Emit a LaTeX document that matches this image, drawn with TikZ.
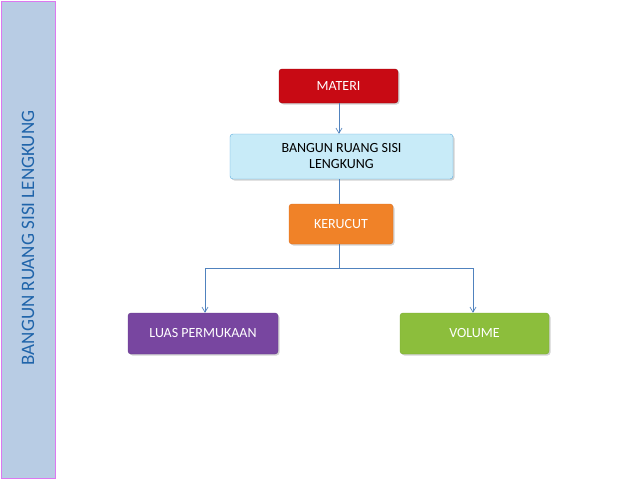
\documentclass[tikz,border=0pt]{standalone}
\usepackage{fontspec}
\setmainfont{Carlito}
\usetikzlibrary{arrows.meta,shadows}
\begin{document}
\begin{tikzpicture}[x=1pt,y=-1pt,
 box/.style={draw, rounded corners=3pt, minimum height=#1, font=\fontsize{14}{16}\selectfont, align=center, drop shadow={shadow xshift=1.5pt,shadow yshift=-1.5pt,opacity=0.35}},
 conn/.style={draw={rgb,255:red,80;green,130;blue,190}, line width=0.7pt},
 arr/.style={conn, -{Straight Barb[length=5pt,width=6pt]}}]
\useasboundingbox (0,0) rectangle (638,479);
\fill[fill={rgb,255:red,184;green,204;blue,228}, draw={rgb,255:red,220;green,120;blue,240}, line width=1pt] (1,1) rectangle (55,478);
\node[rotate=90, text={rgb,255:red,31;green,100;blue,170}, font=\fontsize{19}{21}\selectfont] (side) at (28,238) {BANGUN RUANG SISI LENGKUNG};
\node[box=34pt, minimum width=119pt, fill={rgb,255:red,200;green,10;blue,20}, draw={rgb,255:red,150;green,0;blue,10}, text=white] (mat) at (338.5,86) {MATERI};
\node[box=45pt, minimum width=223pt, fill={rgb,255:red,200;green,235;blue,248}, draw={rgb,255:red,90;green,170;blue,220}, text=black] (brsl) at (341.5,156.5) {BANGUN RUANG SISI\\LENGKUNG};
\node[box=40pt, minimum width=104pt, fill={rgb,255:red,240;green,130;blue,40}, draw={rgb,255:red,220;green,110;blue,30}, text=white] (ker) at (341,224) {KERUCUT};
\node[box=41pt, minimum width=150pt, fill={rgb,255:red,120;green,70;blue,160}, draw={rgb,255:red,100;green,60;blue,140}, text=white] (luas) at (203,333.5) {LUAS PERMUKAAN};
\node[box=41pt, minimum width=149pt, fill={rgb,255:red,140;green,190;blue,60}, draw={rgb,255:red,120;green,170;blue,50}, text=white] (vol) at (474.5,333.5) {VOLUME};
\coordinate (j) at (339,268);
\draw[arr] (mat.south -| 339,0) -- (brsl.north -| 339,0);
\draw[conn] (brsl.south -| 339,0) -- (ker.north -| 339,0);
\draw[conn] (ker.south -| 339,0) -- (j);
\draw[arr] (j) -| (luas.north -| 205,0);
\draw[arr] (j) -| (vol.north -| 473,0);
\end{tikzpicture}
\end{document}
